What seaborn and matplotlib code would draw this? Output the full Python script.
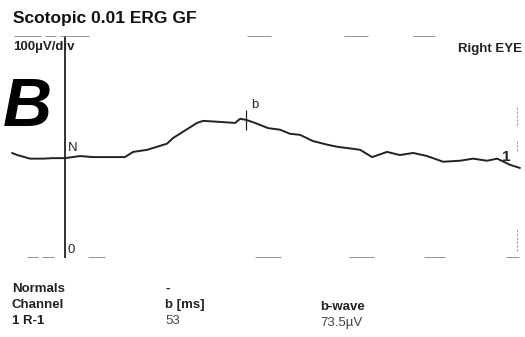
import numpy as np
import pandas as pd
import matplotlib
matplotlib.use("Agg")
import matplotlib.pyplot as plt
import seaborn as sns

# ERG trace (time in ms, amplitude in uV)
time_ms = [-15.6, -14.1, -10.3, -6.5, -3.5, 0.0, 4.4, 8.2, 13.2, 17.6, 20.0, 24.1,
           27.1, 30.0, 31.8, 34.7, 38.8, 40.6, 45.6, 50.0, 51.5, 53.2, 55.9, 59.7,
           63.2, 66.2, 69.1, 72.9, 77.1, 80.0, 84.7, 86.8, 90.3, 94.7, 98.5, 102.4,
           106.5, 111.2, 116.2, 120.0, 124.1, 127.1, 130.9, 133.8]
amp_uv = [201, 197, 190, 190, 191, 191, 195, 193, 193, 193, 203, 207,
          213, 219, 230, 242, 259, 263, 261, 259, 267, 265, 259, 249,
          246, 238, 236, 224, 217, 213, 209, 207, 193, 203, 197, 201,
          195, 184, 186, 190, 186, 190, 178, 172]

b_time = 53.2
b_amp = 265
n_time = 0.0
n_amp = 191

channel = "1 R-1"
b_ms = "53"
b_wave = "73.5\u00b5V"

df = pd.DataFrame({"t": time_ms, "v": amp_uv})

sns.set_style("white")
plt.rcParams["font.family"] = ["Liberation Sans", "DejaVu Sans"]

fig = plt.figure(figsize=(5.25, 3.37), dpi=100)
W, H = 525, 337
ax = fig.add_axes([10 / W, (H - 258) / H, 512 / W, 222 / H])

sns.lineplot(data=df, x="t", y="v", ax=ax, color="#222222", linewidth=1.4)
ax.plot([b_time], [b_amp], marker="|", markersize=15, color="#222222", mew=0.9)

ax.set_xlim(-16.2, 134.4)
ax.set_ylim(-2, 427)
ax.axvline(0, ymin=0.0, ymax=1.0, color="#222222", linewidth=1.3)

# faded frame pieces of the scan
for x0, x1 in [(0.01, 0.06), (0.07, 0.09), (0.1, 0.155), (0.465, 0.51), (0.655, 0.7), (0.79, 0.83)]:
    ax.axhline(427, xmin=x0, xmax=x1, color="#777777", linewidth=1.1)
for x0, x1 in [(0.035, 0.055), (0.065, 0.085), (0.155, 0.185), (0.48, 0.53), (0.665, 0.71), (0.81, 0.85), (0.97, 0.995)]:
    ax.axhline(-2, xmin=x0, xmax=x1, color="#777777", linewidth=1.1)
for y0, y1 in [(0.6, 0.68), (0.48, 0.53), (0.03, 0.13)]:
    ax.axvline(133.0, ymin=y0, ymax=y1, color="#999999", linewidth=0.8, ls=(0, (2, 1.5)))

ax.set_xticks([])
ax.set_yticks([])
ax.set_xlabel("")
ax.set_ylabel("")
for s in ax.spines.values():
    s.set_visible(False)

ax.text(n_time + 0.7, n_amp + 8, "N", fontsize=9.5, va="bottom", ha="left")
ax.text(b_time + 1.5, b_amp + 18, "b", fontsize=9.5, va="bottom", ha="left")
ax.text(0.7, 2, "0", fontsize=9.5, va="bottom", ha="left")
ax.text(131, 180, "1", fontsize=11, fontweight="bold", va="bottom", ha="right")

fig.text(13 / W, 1 - 18 / H, "Scotopic 0.01 ERG GF", fontsize=12.5, fontweight="bold",
         va="center", ha="left", color="#111111")
fig.text(13 / W, 1 - 47 / H, "100\u00b5V/div", fontsize=9.5, fontweight="bold",
         va="center", ha="left", color="#222222")
fig.text(522 / W, 1 - 49 / H, "Right EYE", fontsize=9.5, fontweight="bold",
         va="center", ha="right", color="#222222")
fig.text(3 / W, 1 - 108 / H, "B", fontsize=49, fontweight="bold", style="italic",
         va="center", ha="left", color="black")

rows = [("Normals", "-", ""), ("Channel", "b [ms]", "b-wave"), (channel, b_ms, b_wave)]
ys = [289, 305, 321]
for (c1, c2, c3), y in zip(rows, ys):
    fig.text(12 / W, 1 - y / H, c1, fontsize=9.5, fontweight="bold", va="center", color="#222222")
    fig.text(165 / W, 1 - y / H, c2, fontsize=9.5, fontweight="bold" if y < 315 else "normal",
             va="center", color="#222222" if y < 315 else "#444444")
    fig.text(320 / W, 1 - (y + 2) / H, c3, fontsize=9.5, fontweight="bold" if y < 315 else "normal",
             va="center", color="#222222" if y < 315 else "#444444")

fig.savefig("out.png", dpi=100)
